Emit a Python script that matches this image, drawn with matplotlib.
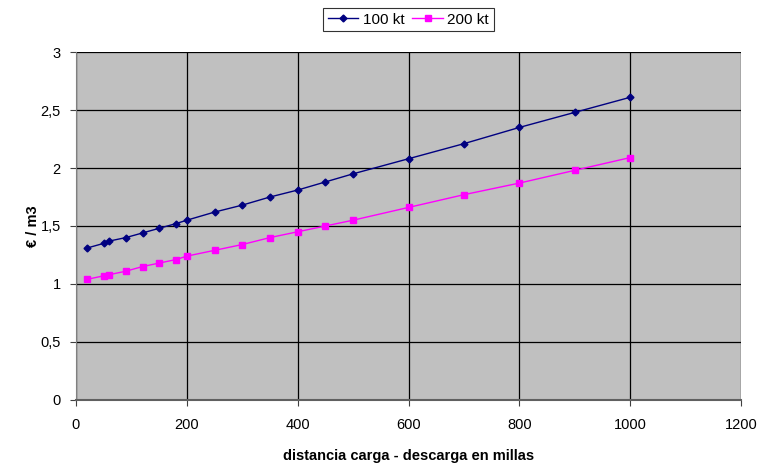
import matplotlib
matplotlib.use("Agg")
import matplotlib.pyplot as plt
from matplotlib.ticker import FuncFormatter

plt.rcParams['font.family'] = ['Liberation Sans', 'DejaVu Sans']

dist = [20, 50, 60, 90, 120, 150, 180, 200, 250, 300, 350, 400, 450, 500, 600, 700, 800, 900, 1000]
kt100 = [1.31, 1.35, 1.37, 1.40, 1.44, 1.48, 1.52, 1.55, 1.62, 1.68, 1.75, 1.81, 1.88, 1.95, 2.08, 2.21, 2.35, 2.48, 2.61]
kt200 = [1.04, 1.07, 1.08, 1.11, 1.15, 1.18, 1.21, 1.24, 1.29, 1.34, 1.40, 1.45, 1.50, 1.55, 1.66, 1.77, 1.87, 1.98, 2.09]
series_names = ["100 kt", "200 kt"]
xticks = [0, 200, 400, 600, 800, 1000, 1200]
yticks = [0, 0.5, 1, 1.5, 2, 2.5, 3]

fig = plt.figure(figsize=(7.6, 4.65), dpi=100)
ax = fig.add_axes([0.1, 0.14, 0.875, 0.748])
ax.set_facecolor('#C0C0C0')

ax.plot(dist, kt100, color='#000080', lw=1, marker='D', markersize=3.5, label=series_names[0], zorder=3)
ax.plot(dist, kt200, color='#FF00FF', lw=1, marker='s', markersize=4.5, label=series_names[1], zorder=3)

ax.set_xlim(0, 1200)
ax.set_ylim(0, 3)
ax.set_xticks(xticks)
ax.set_yticks(yticks)
ax.yaxis.set_major_formatter(FuncFormatter(lambda v, p: ('%g' % v).replace('.', ',')))
ax.grid(True, color='black', lw=0.9)
ax.set_axisbelow(True)
for s in ['top', 'right']:
    ax.spines[s].set_visible(False)
ax.spines['left'].set_color('#808080')
ax.spines['bottom'].set_color('#606060')
ax.spines['bottom'].set_linewidth(1.5)
ax.tick_params(axis='both', labelsize=10.5, length=4, color='#404040', direction='out')
ax.tick_params(axis='x', pad=9)
ax.tick_params(axis='y', pad=7)

ax.set_xlabel('distancia carga - descarga en millas', fontsize=10.5, fontweight='bold', labelpad=12)
ax.set_ylabel('€ / m3', fontsize=10.5, fontweight='bold', labelpad=0)

leg = ax.legend(loc='lower center', bbox_to_anchor=(0.5, 1.06), ncol=2, frameon=True,
                fontsize=11, fancybox=False, edgecolor='black', handlelength=2.0,
                columnspacing=0.5, handletextpad=0.3, borderpad=0.3, borderaxespad=0)
leg.get_frame().set_linewidth(0.8)

fig.savefig('out.png', dpi=100)
